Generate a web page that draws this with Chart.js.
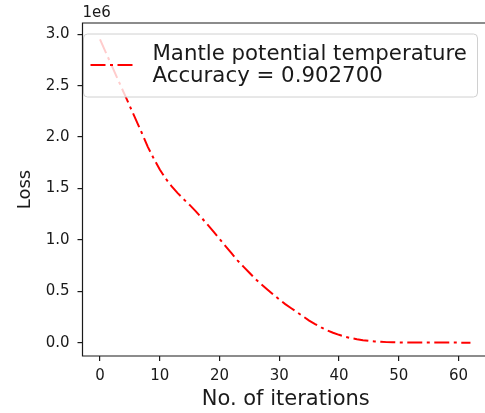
<!DOCTYPE html>
<html>
<head>
<meta charset="utf-8">
<script src="https://cdn.jsdelivr.net/npm/chart.js@4.4.1/dist/chart.umd.min.js"></script>
<style>
    html, body { margin: 0; padding: 0; overflow: hidden; background: #fff; }
    #wrap { width: 485px; height: 413px; overflow: hidden; }
</style>
</head>
<body>
<div id="wrap"><canvas id="c" width="492" height="413"></canvas></div>
<script>
'use strict';

// loss per iteration
const loss = [
    2950000, 2820000, 2690000, 2560000, 2430000, 2300000, 2170000, 2040000,
    1905000, 1790000, 1685000, 1595000, 1520000, 1455000, 1395000, 1340000,
    1280000, 1215000, 1148000, 1080000, 1010000, 940000, 870000, 800000,
    740000, 680000, 620000, 568000, 518000, 468000, 420000, 375000,
    335000, 295000, 255000, 215000, 180000, 148000, 120000, 96000,
    76000, 58000, 44000, 33000, 24000, 17000, 12000, 8000,
    5000, 3000, 2000, 1500, 1000, 800, 600, 500,
    400, 300, 250, 200, 150, 100, 80
];
const xTicks = [0, 10, 20, 30, 40, 50, 60];
const yTicks = [0, 500000, 1000000, 1500000, 2000000, 2500000, 3000000];
const legendLines = ['Mantle potential temperature', 'Accuracy = 0.902700'];
const xTitle = 'No. of iterations';
const yTitle = 'Loss';
const offsetText = '1e6';

const FONT = 'DejaVu Sans';
const INK = '#1a1a1a';
const RED = '#ff0000';
const DASH = [15, 4.5, 3, 4.5];

// точки линии
let points = [];
for (let i = 0; i < loss.length; i++){
    points.push({x: i, y: loss[i]});
}

// рамка, 1e6 и легенда поверх линии
const decor = {
    id: 'decor',
    afterDatasetsDraw(chart){
        const ctx = chart.ctx;
        const a = chart.chartArea;
        ctx.save();

        // legend box
        let bx = a.left + 1, by = a.top + 11, bw = 394, bh = 63, r = 4;
        ctx.beginPath();
        ctx.roundRect(bx, by, bw, bh, r);
        ctx.fillStyle = 'rgba(255,255,255,0.8)';
        ctx.fill();
        ctx.strokeStyle = '#d0d0d0';
        ctx.lineWidth = 1;
        ctx.stroke();

        ctx.beginPath();
        ctx.setLineDash(DASH);
        ctx.strokeStyle = RED;
        ctx.lineWidth = 2;
        ctx.moveTo(bx + 7, by + 31);
        ctx.lineTo(bx + 50, by + 31);
        ctx.stroke();
        ctx.setLineDash([]);

        ctx.fillStyle = INK;
        ctx.font = '21.3px "' + FONT + '"';
        ctx.textAlign = 'left';
        ctx.textBaseline = 'middle';
        ctx.fillText(legendLines[0], bx + 69, by + 20);
        ctx.fillText(legendLines[1], bx + 69, by + 42);

        // frame: left, top, bottom (right side is cut off by the window)
        ctx.strokeStyle = INK;
        ctx.lineWidth = 1.2;
        ctx.beginPath();
        ctx.moveTo(chart.width, a.top);
        ctx.lineTo(a.left, a.top);
        ctx.lineTo(a.left, a.bottom);
        ctx.lineTo(chart.width, a.bottom);
        ctx.stroke();

        // offset text
        ctx.font = '15px "' + FONT + '"';
        ctx.fillText(offsetText, a.left, a.top - 10);
        ctx.restore();
    }
};

const ctx = document.getElementById('c').getContext('2d');
new Chart(ctx, {
    type: 'line',
    data: {
        datasets: [{
            label: legendLines[0],
            data: points,
            borderColor: RED,
            borderWidth: 2,
            borderDash: DASH,
            pointRadius: 0,
            fill: false,
            tension: 0
        }]
    },
    options: {
        responsive: false,
        animation: false,
        devicePixelRatio: 1,
        layout: { padding: { left: 0, top: 23, right: 3, bottom: 0 } },
        plugins: { legend: { display: false }, tooltip: { enabled: false } },
        scales: {
            x: {
                type: 'linear',
                min: -2.93,
                max: 65.1,
                afterBuildTicks: s => { s.ticks = xTicks.map(v => ({value: v})); },
                afterFit: s => { s.height = 57; },
                border: { display: false },
                grid: { drawOnChartArea: false, drawTicks: true, tickLength: 5, tickColor: INK, lineWidth: 1.2 },
                ticks: { color: INK, font: { family: FONT, size: 15 }, padding: 6, maxRotation: 0 },
                title: { display: true, text: xTitle, color: INK, font: { family: FONT, size: 21 }, padding: { top: 0, bottom: 1 } }
            },
            y: {
                type: 'linear',
                min: -130000,
                max: 3110000,
                afterBuildTicks: s => { s.ticks = yTicks.map(v => ({value: v})); },
                afterFit: s => { s.width = 82.5; },
                border: { display: false },
                grid: { drawOnChartArea: false, drawTicks: true, tickLength: 5, tickColor: INK, lineWidth: 1.2 },
                ticks: {
                    color: INK, font: { family: FONT, size: 15 }, padding: 8,
                    callback: v => (v / 1e6).toFixed(1)
                },
                title: { display: true, text: yTitle, color: INK, font: { family: FONT, size: 18 }, padding: { top: 15, bottom: 0 } }
            }
        }
    },
    plugins: [decor]
});
</script>
</body>
</html>
